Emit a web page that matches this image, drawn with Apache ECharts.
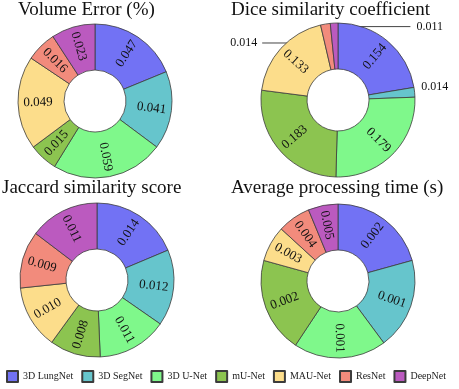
<!DOCTYPE html>
<html>
<head>
<meta charset="utf-8">
<script src="https://cdn.jsdelivr.net/npm/echarts@6/dist/echarts.min.js"></script>
<style>
  html, body { margin: 0; padding: 0; background: #fff; }
  #chart { width: 459px; height: 389px; }
</style>
</head>
<body>
<div id="chart"></div>
<script>
const models = ['3D LungNet', '3D SegNet', '3D U-Net', 'mU-Net', 'MAU-Net', 'ResNet', 'DeepNet'];
const colors = ['#7272F4', '#66C5CC', '#7FF88B', '#8CC450', '#FCDD8B', '#F28B7C', '#BB5ABF'];

const volumeError = [0.047, 0.041, 0.059, 0.015, 0.049, 0.016, 0.023];
const volumeLabels = ['0.047', '0.041', '0.059', '0.015', '0.049', '0.016', '0.023'];

const diceValues = [0.154, 0.014, 0.179, 0.183, 0.133, 0.014, 0.011];
const diceLabels = ['0.154', '0.014', '0.179', '0.183', '0.133', '0.014', '0.011'];

const jaccardValues = [0.014, 0.012, 0.011, 0.008, 0.010, 0.009, 0.011];
const jaccardLabels = ['0.014', '0.012', '0.011', '0.008', '0.010', '0.009', '0.011'];

// slice sizes of the time chart as drawn (degrees), labels as printed
const timeShare = [74.5, 69, 70, 72, 27, 25, 22.5];
const timeLabels = ['0.002', '0.001', '0.001', '0.002', '0.003', '0.004', '0.005'];

const serif = '"Liberation Serif", "Times New Roman", serif';

function pieData(values, outside) {
    return values.map(function (v, i) {
        const item = {name: models[i], value: v};
        if (outside && outside.indexOf(i) >= 0) {
            item.label = {position: 'outside', rotate: 0, fontSize: 12};
            item.labelLine = {show: i !== 1, length: 4, length2: 4};
        }
        return item;
    });
}

function pieSeries(name, values, labels, center, outside) {
    return {
        name: name,
        type: 'pie',
        radius: [31, 77],
        center: center,
        startAngle: 90,
        clockwise: true,
        avoidLabelOverlap: false,
        itemStyle: {
            borderColor: '#3c3c3c',
            borderWidth: 0.8
        },
        label: {
            show: true,
            position: 'inside',
            rotate: 'radial',
            color: '#111',
            fontFamily: serif,
            fontSize: 13,
            formatter: function (p) {
                return labels[p.dataIndex];
            }
        },
        labelLine: {
            showAbove: true,
            lineStyle: {color: '#444', width: 1}
        },
        emphasis: {disabled: true},
        data: pieData(values, outside)
    };
}

const chart = echarts.init(document.getElementById('chart'));

const titleStyle = {fontFamily: serif, fontSize: 19, fontWeight: 'normal', color: '#111'};

const diceSeries = pieSeries('Dice similarity coefficient', diceValues, diceLabels, [338, 100], [1, 5, 6]);
diceSeries.labelLayout = function (p) {
    const r = p.rect;
    if (p.dataIndex === 6) {
        const y = r.y + 4;
        return {
            x: r.x + r.width + 78, y: y, align: 'left', verticalAlign: 'middle',
            labelLinePoints: [[r.x + r.width - 1.5, r.y + 15], [r.x + r.width + 12.5, y], [r.x + r.width + 72, y]]
        };
    }
    if (p.dataIndex === 5) {
        const y = r.y + 20;
        return {
            x: r.x - 63, y: y, align: 'right', verticalAlign: 'middle',
            labelLinePoints: [[r.x + 10, r.y + 35], [r.x - 3, y], [r.x - 58, y]]
        };
    }
    if (p.dataIndex === 1) {
        return {x: r.x + r.width + 6, y: r.y, align: 'left', verticalAlign: 'middle'};
    }
};

const option = {
    animation: false,
    color: colors,
    title: [
        {text: 'Volume Error (%)', left: 18, top: 1, padding: 0, textStyle: titleStyle},
        {text: 'Dice similarity coefficient', left: 231, top: 1, padding: 0, textStyle: titleStyle},
        {text: 'Jaccard similarity score', left: 2, top: 179, padding: 0, textStyle: titleStyle},
        {text: 'Average processing time (s)', left: 231, top: 179, padding: 0, textStyle: titleStyle}
    ],
    legend: {
        data: models,
        left: 6,
        top: 370,
        padding: 0,
        icon: 'rect',
        itemWidth: 11,
        itemHeight: 11,
        itemGap: 8,
        textStyle: {fontFamily: serif, fontSize: 10, color: '#222'}
    },
    series: [
        pieSeries('Volume Error (%)', volumeError, volumeLabels, [95, 101]),
        diceSeries,
        pieSeries('Jaccard similarity score', jaccardValues, jaccardLabels, [97, 280]),
        pieSeries('Average processing time (s)', timeShare, timeLabels, [338, 281])
    ]
};

chart.setOption(option);
</script>
</body>
</html>
